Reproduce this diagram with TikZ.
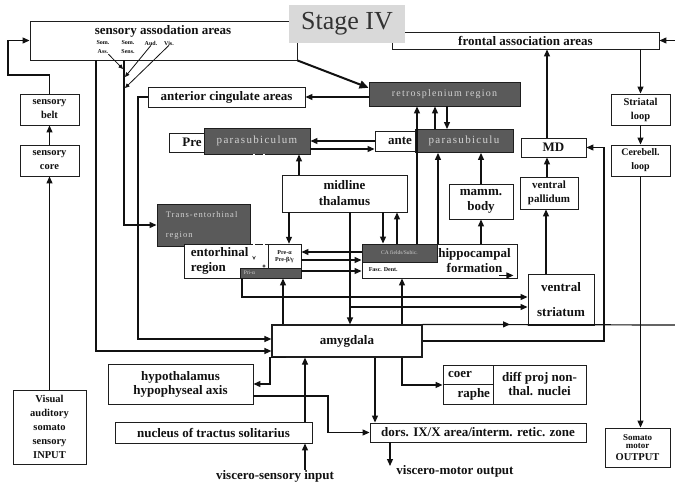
\documentclass[tikz,border=0pt]{standalone}
\usepackage{fontspec}
\setmainfont{Liberation Serif}
\newfontfamily\spacedfont[LetterSpace=12]{Liberation Serif}
\usetikzlibrary{arrows.meta,calc,positioning}
\definecolor{bx}{HTML}{1E1E1E}
\definecolor{tx}{HTML}{111111}
\definecolor{dk}{HTML}{5A5A5A}
\definecolor{lt}{HTML}{D2D2D2}
\definecolor{sg}{HTML}{D9D9D9}
\definecolor{st}{HTML}{333333}

\begin{document}
\begin{tikzpicture}[x=1pt,y=-1pt, every node/.style={inner sep=0pt},
  box/.style={draw=bx, fill=white, line width=0.9pt, align=center, text=tx, font=\bfseries\fontsize{13}{15}\selectfont},
  boxsm/.style={box, font=\bfseries\fontsize{10.5}{14}\selectfont},
  darkbox/.style={draw=bx, fill=dk, line width=0.9pt, align=center, text=lt, font=\spacedfont\fontsize{11}{13}\selectfont},
  lbl/.style={align=center, text=tx, font=\bfseries\fontsize{13}{15}\selectfont},
  tinytxt/.style={text=tx, font=\bfseries\fontsize{6}{7}\selectfont},
  conn/.style={draw=tx, line width=1.2pt, -{Triangle[length=7pt,width=6pt]}},
  wire/.style={draw=tx, line width=1.2pt},
  hollow/.style={draw=tx!75, line width=0.45pt, double=white, double distance=1.1pt}]

\path[fill=white, use as bounding box] (0,0) rectangle (675,487);

% top row
\node[box, minimum width=267pt, minimum height=39pt] (sens) at (163.5,40.5) {};
\node[lbl] (senstxt) at (163,31) {sensory assodation areas};
\node[tinytxt] (lsomA) at (103,43) {Som.};
\node[tinytxt] (lsomB) at (128,43) {Som.};
\node[tinytxt] (laud) at (151,43) {Aud.};
\node[tinytxt] (lvis) at (169,43) {Vis.};
\node[tinytxt] (lass) at (103,52) {Ass.};
\node[tinytxt] (lsens) at (128,52) {Sens.};
\node[box, minimum width=267pt, minimum height=17pt] (front) at (525.5,40.5) {frontal association areas};
\node[fill=sg, minimum width=116pt, minimum height=38pt, text=st, font=\fontsize{26}{30}\selectfont] (stage) at (347,24) {Stage IV};

% left column
\node[boxsm, minimum width=59pt, minimum height=31pt] (belt) at (49.5,109.5) {sensory\\belt};
\node[boxsm, minimum width=59pt, minimum height=31pt] (core) at (49.5,160.5) {sensory\\core};
\node[boxsm, minimum width=73pt, minimum height=74pt] (input) at (49.5,427) {Visual\\auditory\\somato\\sensory\\INPUT};

% cortex / limbic
\node[box, minimum width=157pt, minimum height=20pt] (acing) at (226.5,97) {anterior cingulate areas};
\node[darkbox, font=\spacedfont\fontsize{10}{12}\selectfont, minimum width=151pt, minimum height=24pt] (retro) at (444.5,94) {retrosplenium region};
\node[box, minimum width=46pt, minimum height=19pt] (prebox) at (192,142.5) {Pre};
\node[darkbox, minimum width=106pt, minimum height=26pt] (parsubA) at (257,141) {parasubiculum};
\node[box, minimum width=50pt, minimum height=20pt] (ante) at (400,141) {ante};
\node[darkbox, minimum width=98pt, minimum height=23pt] (parsubB) at (464,141) {parasubiculu};
\node[box, minimum width=64pt, minimum height=35pt] (mamm) at (481,201.5) {mamm.\\body};
\node[box, minimum width=65pt, minimum height=19pt] (md) at (553.5,147.5) {MD};
\node[box, font=\bfseries\fontsize{11}{14}\selectfont, minimum width=58pt, minimum height=32pt] (vpall) at (549,193) {ventral\\pallidum};
\node[boxsm, minimum width=59pt, minimum height=31pt] (strloop) at (640.5,109.5) {Striatal\\loop};
\node[boxsm, font=\bfseries\fontsize{10}{14}\selectfont, minimum width=59pt, minimum height=31pt] (cbloop) at (640.5,160.5) {Cerebell.\\loop};
\node[box, font=\bfseries\fontsize{13}{16}\selectfont, minimum width=125pt, minimum height=37pt] (midthal) at (344.5,193.5) {midline\\thalamus};

% entorhinal / hippocampal
\node[darkbox, minimum width=93pt, minimum height=42pt] (transent) at (203.5,225) {};
\node[align=left, text=lt, font=\spacedfont\fontsize{8.5}{20}\selectfont, right=9pt of transent.west] (transtxt) {Trans-entorhinal\\region};
\node[box, minimum width=117pt, minimum height=34pt] (ento) at (242.5,261) {};
\node[draw=bx, fill=white, line width=0.5pt, minimum width=33pt, minimum height=25pt, align=center, tinytxt] (prea) at (284.5,256.5) {Pre-α\\Pre-β/γ};
\node[darkbox, minimum width=61pt, minimum height=10pt] (pria) at (270.5,273) {};
\node[text=lt, font=\fontsize{5.5}{6}\selectfont, right=4pt of pria.west] (priatxt) {Pri-α};
\coordinate (c254) at (254,0); \coordinate (c264) at (264,0);
\coordinate (entoin) at (254,260);
\draw[hollow, -{Stealth[length=4pt,width=3.5pt]}] (parsubA.south -| c254) -- (entoin);
\draw[hollow, -{Circle[length=3pt]}] (parsubA.south -| c264) -- (pria.north -| c264);
\node[lbl, align=left, right=7pt of ento.west] (entotxt) {entorhinal\\region};
\node[box, minimum width=155pt, minimum height=34pt] (hipp) at (439.5,261) {};
\node[darkbox, font=\fontsize{5.5}{6}\selectfont, minimum width=75pt, minimum height=18pt] (ca) at (399.5,253) {CA fields/Subic.};
\node[lbl] (hipptxt) at ([xshift=35pt]hipp.center) {hippocampal\\formation};
\node[tinytxt, anchor=west] (fasc) at ([xshift=7pt,yshift=-7pt]ca.south west) {Fasc. Dent.};
\node[box, font=\bfseries\fontsize{13}{25}\selectfont, minimum width=66pt, minimum height=51pt] (vstri) at (561,299.5) {ventral\\striatum};

% lower part
\node[box, line width=1.2pt, minimum width=150pt, minimum height=32pt] (amyg) at (347,341) {amygdala};
\node[box, font=\bfseries\fontsize{13}{14}\selectfont, minimum width=145pt, minimum height=40pt] (hypo) at (180.5,384) {hypothalamus\\hypophyseal axis};
\node[box, text width=40pt, align=left, minimum width=50pt, minimum height=19.5pt] (coer) at (468,374.75) {coer};
\node[box, text width=44pt, align=right, minimum width=50pt, minimum height=19.5pt] (raphe) at (468,394.25) {raphe};
\node[box, font=\bfseries\fontsize{13}{14}\selectfont, minimum width=93pt, minimum height=39pt] (diffproj) at (539.5,384.5) {diff proj non-\\thal. nuclei};
\node[box, minimum width=197pt, minimum height=21pt] (nts) at (213.5,432.5) {nucleus of tractus solitarius};
\node[box, minimum width=216pt, minimum height=19pt] (dors) at (478,432.5) {dors. IX/X area/interm. retic. zone};
\node[box, font=\bfseries\fontsize{9}{8}\selectfont, minimum width=65pt, minimum height=39pt] (motorout) at (637.5,447.5) {Somato\\motor\\[4pt]{\fontsize{10.5}{12}\selectfont OUTPUT}};
\node[lbl] (visin) at (275,476) {viscero-sensory input};
\node[lbl] (visout) at (455,471) {viscero-motor output};

% columns, rows and free ends
\coordinate (c96) at (96,0);   \coordinate (c124) at (124,0); \coordinate (c138) at (138,0);
\coordinate (c242) at (242,0); \coordinate (c270) at (270,0); \coordinate (c283) at (283,0);
\coordinate (c289) at (289,0); \coordinate (c299) at (299,0); \coordinate (c305) at (305,0);
\coordinate (c328) at (328,0); \coordinate (c350) at (350,0); \coordinate (c375) at (375,0);
\coordinate (c383) at (383,0); \coordinate (c390) at (390,0); \coordinate (c397) at (397,0);
\coordinate (c402) at (402,0); \coordinate (c417) at (417,0); \coordinate (c435) at (435,0);
\coordinate (c438) at (438,0); \coordinate (c447) at (447,0); \coordinate (c510) at (510,0);
\coordinate (c546) at (546,0); \coordinate (c547) at (547,0); \coordinate (c604) at (604,0);
\coordinate (r252) at (0,252); \coordinate (r260) at (0,260); \coordinate (r271) at (0,271);
\coordinate (r297) at (0,297); \coordinate (r307) at (0,307); \coordinate (r339) at (0,339);
\coordinate (r351) at (0,351); \coordinate (r396) at (0,396);
\coordinate (bendL) at (8,75);
\coordinate (jA) at (123,69); \coordinate (jB) at (125,77); \coordinate (jC) at (125,88);
\coordinate (vmo) at (390,466);
\coordinate (amout) at (675,325);
\coordinate (frin) at (675,40.5);

% sensory input
\draw[conn] (input.north) -- (core.south);
\draw[conn] (core.north) -- (belt.south);
\draw[conn] (belt.north) |- (bendL) |- (sens.west);
\draw[conn, line width=0.8pt, -{Triangle[length=4.5pt,width=4pt]}] (lass.south east) -- (jA);
\draw[conn, line width=0.8pt, -{Triangle[length=4.5pt,width=4pt]}] (laud.south) -- (jB);
\draw[conn, line width=0.8pt, -{Triangle[length=4.5pt,width=4pt]}] (lvis.south) -- (jC);
\draw[conn] (sens.south -| c96) |- (amyg.west |- r351);
\draw[conn] (sens.south -| c124) |- (transent.west);
\draw[conn] (acing.west) -| (c138 |- r339) -- (amyg.west |- r339);
\draw[conn, line width=2pt, -{Triangle[length=9pt,width=8pt]}] (sens.south east) -- ($(retro.north west)!0.25!(retro.south west)$);
\draw[conn] (retro.west |- acing.east) -- (acing.east);

% parasubiculum and retrosplenium
\draw[conn] (ante.west) -- (parsubA.east);
\draw[conn] ([yshift=-8pt]parsubA.east) -- ([yshift=-8pt]ante.west);
\draw[conn] (ca.north -| c417) -- (retro.south -| c417);
\draw[conn] (parsubB.north -| c435) -- (retro.south -| c435);
\draw[conn] (retro.south -| c447) -- (parsubB.north -| c447);
\draw[conn] (hipp.north -| c438) -- (parsubB.south -| c438);
\draw[conn] (mamm.north) -- (parsubB.south -| mamm.north);
\draw[conn] (hipp.north -| mamm.south) -- (mamm.south);

% thalamus
\draw[conn] (midthal.north -| c299) -- (parsubA.south -| c299);
\draw[conn] (midthal.south -| c289) -- (prea.north -| c289);
\draw[conn] (midthal.south -| c383) -- (ca.north -| c383);
\draw[conn] (ca.north -| c397) -- (midthal.south -| c397);
\draw[conn] (midthal.south -| c350) -- (amyg.north -| c350);
\draw[conn] (c350 |- r307) -- (vstri.west |- r307);

% entorhinal - hippocampal
\draw[conn] (hipp.west |- r252) -- (ento.east |- r252);
\draw[conn] (ento.east |- r260) -- (hipp.west |- r260);
\draw[conn] (ento.east |- r271) -- (hipp.west |- r271);
\draw[conn] (pria.south -| c242) |- (vstri.west |- r297);
\draw[conn] ([xshift=-18pt,yshift=3pt]hipp.south east) -- ([xshift=-4pt,yshift=3pt]hipp.south east);

% amygdala
\draw[conn] (amyg.north -| c283) -- (pria.south -| c283);
\draw[conn] (amyg.north -| c402) -- (hipp.south -| c402);
\draw[conn] ([xshift=15pt]amyg.south west) -| (c270 |- hypo.east) -- (hypo.east);
\draw[conn] (hypo.east |- r396) -| (c328 |- dors.west) -- (dors.west);
\draw[conn] (amyg.south -| c375) -- (dors.north -| c375);
\draw[conn] (amyg.south -| c402) |- (coer.south west);
\draw[conn] (nts.north -| c305) -- (amyg.south -| c305);
\draw[conn] (visin.north -| c305) -- (nts.south -| c305);
\draw[conn] (dors.south -| c390) -- (vmo);
\draw[wire] (amyg.north east) -- (amout);
\draw[conn] (amyg.north east) -- (amyg.north east -| c510);
\draw[conn] (amyg.east) -| (c604 |- md.east) -- (md.east);

% striatal / frontal loop
\draw[conn] (vstri.north -| c546) -- (vpall.south -| c546);
\draw[conn] (vpall.north -| c547) -- (md.south -| c547);
\draw[conn] (md.north -| c547) -- (front.south -| c547);
\draw[conn] (frin) -- (front.east);
\draw[conn] (front.south -| strloop.north) -- (strloop.north);
\draw[conn] (strloop.south) -- (cbloop.north);
\draw[conn] (cbloop.south) -- (cbloop.south |- motorout.north);
\end{tikzpicture}
\end{document}
